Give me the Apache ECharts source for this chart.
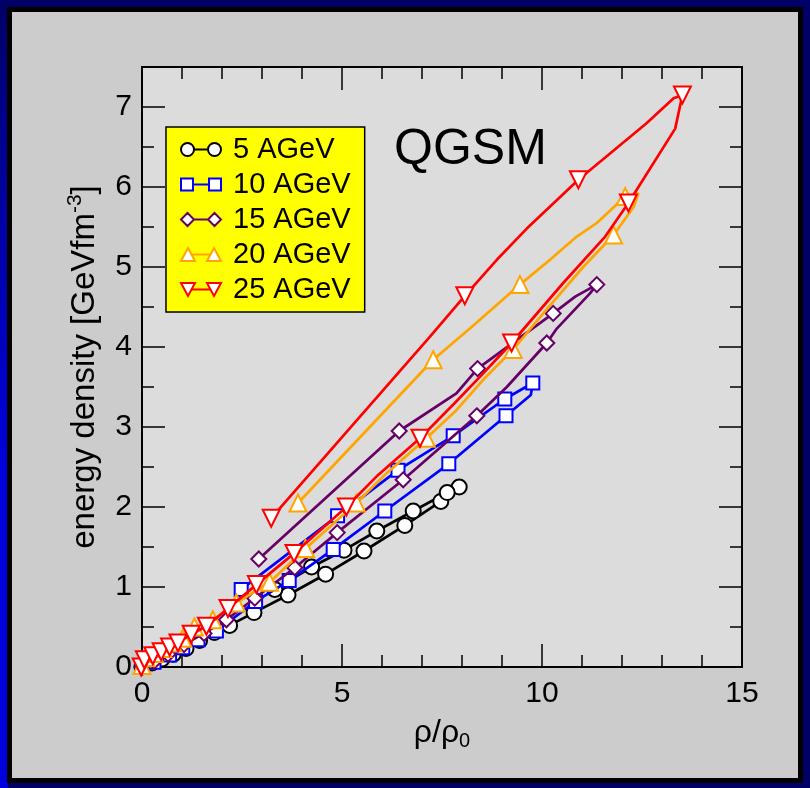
<!DOCTYPE html>
<html><head><meta charset="utf-8">
<script src="https://cdn.jsdelivr.net/npm/echarts@6/dist/echarts.min.js"></script>
<style>
html,body{margin:0;padding:0;}
body{width:810px;height:788px;background:#000066;position:relative;overflow:hidden;}
#lstrip{position:absolute;left:0;top:0;width:8px;height:788px;background:linear-gradient(to bottom,#000066 0%,#0000a0 25%,#0000dd 60%,#0000dd 100%);}
#frame{position:absolute;left:7px;top:7px;width:786px;height:766px;border:5px solid #000;background:#cccccc;}
#c{position:absolute;left:0;top:0;width:810px;height:788px;}
</style>
</head><body><div id="lstrip"></div><div id="frame"></div><div id="c"></div>
<script>
// ---------- data (rho/rho0, energy density GeV/fm^3) ----------
const seriesNames = ['5 AGeV', '10 AGeV', '15 AGeV', '20 AGeV', '25 AGeV'];
const xTickLabels = ['0', '5', '10', '15'];
const yTickLabels = ['0', '1', '2', '3', '4', '5', '6', '7'];

// markers (time steps)
const marks5 = [[0.0,0.0],[0.25,0.05],[0.5,0.1],[0.78,0.16],[1.10,0.23],[1.44,0.33],[1.81,0.43],[2.19,0.52],[2.80,0.68],[3.65,0.90],[4.59,1.16],[5.55,1.45],[6.57,1.77],[7.47,2.07],[7.93,2.25],[7.63,2.18],[6.78,1.95],[5.87,1.70],[5.05,1.46],[4.24,1.25],[3.32,0.97]];
const marks10 = [[0.0,0.0],[0.3,0.06],[0.69,0.15],[1.02,0.24],[1.40,0.34],[1.86,0.45],[2.84,0.82],[3.68,1.08],[4.78,1.47],[6.07,1.95],[7.67,2.54],[9.10,3.14],[9.77,3.55],[9.07,3.35],[7.78,2.89],[6.40,2.46],[4.89,1.89],[2.48,0.97]];
const marks15 = [[0.0,0.0],[0.3,0.07],[0.65,0.16],[1.05,0.28],[1.55,0.42],[2.11,0.59],[2.82,0.86],[3.82,1.24],[4.88,1.68],[6.53,2.34],[8.37,3.14],[10.12,4.05],[11.37,4.78],[10.28,4.42],[8.39,3.73],[6.43,2.95],[2.92,1.35]];
const marks20 = [[0.0,0.02],[0.10,0.12],[0.31,0.17],[0.52,0.23],[0.77,0.30],[1.02,0.36],[1.31,0.50],[1.77,0.59],[2.36,0.80],[3.19,1.06],[4.09,1.48],[5.36,2.05],[7.11,2.86],[9.28,3.97],[11.79,5.40],[12.08,5.88],[9.45,4.78],[7.28,3.84],[3.90,2.05]];
const marks25 = [[-0.02,0.0],[0.06,0.09],[0.27,0.14],[0.48,0.19],[0.69,0.25],[0.90,0.30],[1.23,0.41],[1.61,0.51],[2.15,0.73],[2.86,1.03],[3.80,1.42],[5.11,2.00],[6.95,2.86],[9.24,4.05],[12.16,5.80],[13.51,7.15],[10.91,6.09],[8.07,4.64],[3.23,1.86]];

// full trajectories (markers plus intermediate steps)
const path5 = marks5;
const path10 = [[0.0,0.0],[0.3,0.06],[0.69,0.15],[1.02,0.24],[1.40,0.34],[1.86,0.45],[2.84,0.82],[3.68,1.08],[4.78,1.47],[6.07,1.95],[7.67,2.54],[9.10,3.14],[9.72,3.40],[9.77,3.55],[9.07,3.35],[7.78,2.89],[6.40,2.46],[4.89,1.89],[2.48,0.97]];
const path15 = [[0.0,0.0],[0.3,0.07],[0.65,0.16],[1.05,0.28],[1.55,0.42],[2.11,0.59],[2.82,0.86],[3.82,1.24],[4.88,1.68],[6.53,2.34],[8.37,3.14],[9.12,3.50],[10.12,4.05],[10.37,4.23],[11.2,4.67],[11.37,4.78],[10.83,4.63],[10.28,4.42],[8.39,3.73],[7.86,3.42],[6.43,2.95],[2.92,1.35]];
const path20 = [[0.0,0.02],[0.10,0.12],[0.31,0.17],[0.52,0.23],[0.77,0.30],[1.02,0.36],[1.31,0.50],[1.77,0.59],[2.36,0.80],[3.19,1.06],[4.09,1.48],[5.36,2.05],[6.11,2.42],[7.11,2.86],[7.86,3.21],[8.53,3.59],[9.28,3.97],[10.03,4.42],[11.03,5.00],[11.79,5.40],[12.29,5.75],[12.41,5.92],[12.08,5.88],[11.37,5.55],[10.87,5.38],[10.2,5.09],[9.45,4.78],[8.24,4.25],[7.28,3.84],[3.90,2.05]];
const path25 = [[-0.02,0.0],[0.06,0.09],[0.27,0.14],[0.48,0.19],[0.69,0.25],[0.90,0.30],[1.23,0.41],[1.61,0.51],[2.15,0.73],[2.86,1.03],[3.80,1.42],[5.11,2.00],[5.86,2.38],[6.95,2.86],[7.82,3.30],[8.53,3.67],[9.24,4.05],[10.53,4.80],[11.58,5.38],[12.16,5.80],[13.33,6.73],[13.51,7.15],[13.29,7.11],[12.62,6.80],[10.91,6.09],[9.62,5.48],[8.87,5.09],[8.07,4.64],[7.20,4.13],[3.23,1.86]];

// ---------- styles ----------
const FONT = 'Liberation Sans, Arial, Helvetica, sans-serif';
const colors = ['#000000', '#0000ff', '#660066', '#ffa500', '#ff0000'];
const symbols = ['circle', 'rect', 'diamond', 'triangle', 'triangle'];
const rotations = [0, 0, 0, 0, 180];
const sizes = [15, 13, 15, 17, 17];
const legendIcons = [
  'path://M0,6.5A6.5,6.5,0,1,1,13,6.5A6.5,6.5,0,1,1,0,6.5ZM13,6.5L27,6.5M27,6.5A6.5,6.5,0,1,1,40,6.5A6.5,6.5,0,1,1,27,6.5Z',
  'path://M0,0H12V12H0ZM12,6H28M28,0H40V12H28Z',
  'path://M6.5,0L13,6.5L6.5,13L0,6.5ZM13,6.5H27M33.5,0L40,6.5L33.5,13L27,6.5Z',
  'path://M7,0L14,13L0,13ZM10.5,6.5H29.5M33,0L40,13L26,13Z',
  'path://M0,0L14,0L7,13ZM10.5,6.5H29.5M26,0L40,0L33,13Z'
];
const paths = [path5, path10, path15, path20, path25];
const marks = [marks5, marks10, marks15, marks20, marks25];

const chart = echarts.init(document.getElementById('c'), null, {renderer: 'canvas'});

const series = [];
seriesNames.forEach((name, i) => {
  series.push({
    name: name, type: 'line', data: paths[i], symbol: 'none', smooth: false,
    lineStyle: {color: colors[i], width: 2.7}, clip: false, z: 2 + i * 2,
    xAxisIndex: 0, yAxisIndex: 0
  });
  series.push({
    name: name, type: 'scatter', data: marks[i], symbol: symbols[i], symbolRotate: rotations[i],
    symbolSize: sizes[i], itemStyle: {color: '#ffffff', borderColor: colors[i], borderWidth: 2, opacity: 1},
    clip: false, z: 3 + i * 2, xAxisIndex: 0, yAxisIndex: 0
  });
});

const tickLine = (w) => ({lineStyle: {color: '#000', width: w}});
const baseAxis = {
  type: 'value', splitLine: {show: false},
  axisLine: {show: true, onZero: false, lineStyle: {color: '#000', width: 2}}
};

const option = {
  animation: false,
  backgroundColor: 'transparent',
  textStyle: {fontFamily: FONT},
  grid: {left: 142, top: 67, width: 600, height: 600, show: true, backgroundColor: '#dcdcdc', borderWidth: 0},
  legend: {
    orient: 'vertical', left: 166, top: 127,
    backgroundColor: '#ffff00', borderColor: '#000', borderWidth: 1.5,
    padding: [8, 14, 8, 14], itemGap: 6, itemWidth: 40, itemHeight: 13,
    selectedMode: false,
    textStyle: {fontFamily: FONT, fontSize: 29, lineHeight: 29, color: '#000', padding: [0, 0, 0, 7]},
    data: seriesNames.map((n, i) => ({
      name: n, icon: legendIcons[i],
      itemStyle: {color: '#ffffff', borderColor: colors[i], borderWidth: 2}
    }))
  },
  graphic: [{
    type: 'text', left: 394, top: 125, z: 50,
    style: {text: 'QGSM', font: '50px ' + FONT, fill: '#000'}
  }],
  xAxis: [
    Object.assign({}, baseAxis, {
      min: 0, max: 15, interval: 5, position: 'bottom',
      axisTick: Object.assign({show: true, inside: true, length: 23}, tickLine(1.5)),
      minorTick: Object.assign({show: true, splitNumber: 5, length: 12}, tickLine(1.5)),
      axisLabel: {color: '#000', fontSize: 30, margin: 12, fontFamily: FONT,
        formatter: v => xTickLabels.indexOf(String(v)) >= 0 ? String(v) : ''},
      name: '{a|ρ/ρ}{s|0}', nameLocation: 'middle', nameGap: 48,
      nameTextStyle: {rich: {
        a: {fontSize: 32, fontFamily: FONT, color: '#000'},
        s: {fontSize: 20, fontFamily: FONT, color: '#000', padding: [16, 0, 0, 0]}
      }}
    }),
    Object.assign({}, baseAxis, {
      min: 0, max: 15, interval: 5, position: 'top',
      axisTick: Object.assign({show: true, inside: true, length: 23}, tickLine(1.5)),
      minorTick: Object.assign({show: true, splitNumber: 5, length: 12}, tickLine(1.5)),
      axisLabel: {show: false}
    })
  ],
  yAxis: [
    Object.assign({}, baseAxis, {
      min: 0, max: 7.5, interval: 1, position: 'left',
      axisTick: Object.assign({show: true, inside: true, length: 23}, tickLine(1.5)),
      axisLabel: {color: '#000', fontSize: 30, margin: 10, fontFamily: FONT,
        formatter: v => yTickLabels.indexOf(String(v)) >= 0 ? String(v) : ''},
      name: '{a|energy density [GeVfm}{s|-3}{a|]}', nameLocation: 'middle', nameGap: 38, nameRotate: 90,
      nameTextStyle: {rich: {
        a: {fontSize: 33, fontFamily: FONT, color: '#000'},
        s: {fontSize: 21, fontFamily: FONT, color: '#000', padding: [0, 0, 18, 0]}
      }}
    }),
    Object.assign({}, baseAxis, {
      min: 0, max: 7.5, interval: 0.5, position: 'left',
      axisTick: Object.assign({show: true, inside: true, length: 12}, tickLine(1.5)),
      axisLabel: {show: false}
    }),
    Object.assign({}, baseAxis, {
      min: 0, max: 7.5, interval: 1, position: 'right',
      axisTick: Object.assign({show: true, inside: true, length: 23}, tickLine(1.5)),
      axisLabel: {show: false}
    }),
    Object.assign({}, baseAxis, {
      min: 0, max: 7.5, interval: 0.5, position: 'right',
      axisTick: Object.assign({show: true, inside: true, length: 12}, tickLine(1.5)),
      axisLabel: {show: false}
    })
  ],
  series: series
};
chart.setOption(option);
</script>
</body></html>
